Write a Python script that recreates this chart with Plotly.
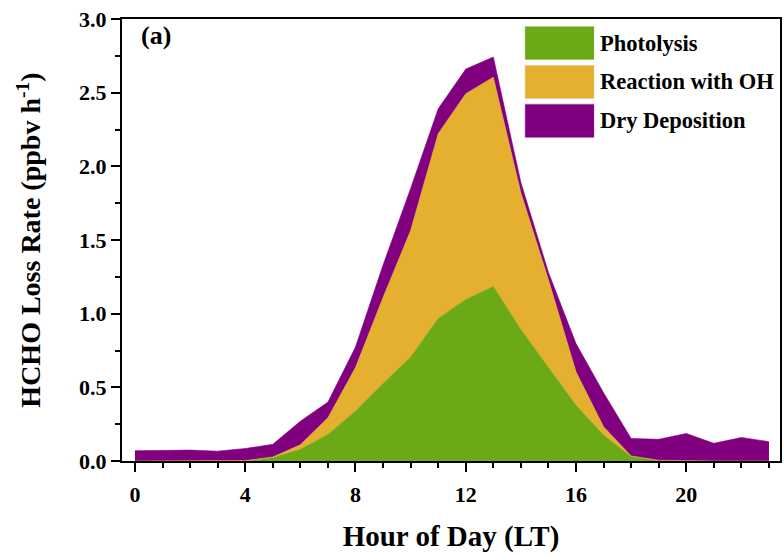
import plotly.graph_objects as go

# Diurnal HCHO loss pathways (ppbv h-1), hourly local time
hours = list(range(24))
photolysis = [0, 0, 0, 0, 0, 0.022, 0.079, 0.18, 0.34, 0.526, 0.706, 0.968,
              1.097, 1.185, 0.893, 0.635, 0.379, 0.176, 0.03, 0.003, 0, 0, 0, 0]
reaction_oh = [0, 0, 0, 0, 0.003, 0.005, 0.031, 0.113, 0.294, 0.584, 0.858, 1.254,
               1.395, 1.42, 0.927, 0.595, 0.226, 0.056, 0.004, 0.002, 0, 0, 0, 0]
dry_deposition = [0.07, 0.072, 0.074, 0.067, 0.082, 0.086, 0.16, 0.107, 0.14, 0.22, 0.286, 0.168,
                  0.168, 0.137, 0.07, 0.05, 0.192, 0.231, 0.119, 0.142, 0.187, 0.12, 0.16, 0.131]

series_names = ["Photolysis", "Reaction with OH", "Dry Deposition"]
series_values = [photolysis, reaction_oh, dry_deposition]
series_colors = ["#6CA916", "#E5AF2F", "#800080"]

x_ticks = [0, 4, 8, 12, 16, 20]
y_ticks = [0.0, 0.5, 1.0, 1.5, 2.0, 2.5, 3.0]

FONT = "Liberation Serif"

fig = go.Figure()
for name, vals, col in zip(series_names, series_values, series_colors):
    fig.add_trace(go.Scatter(
        x=hours, y=vals, name=name, mode="lines",
        stackgroup="loss", line=dict(width=0.6, color=col),
        fillcolor=col, showlegend=False,
    ))

# Legend: large colour swatches with bold labels, top right inside the frame
sw_x0, sw_x1 = 0.612, 0.718
sw_tops = [0.984, 0.896, 0.808]
sw_h = 0.077
for name, col, top in zip(series_names, series_colors, sw_tops):
    fig.add_shape(type="rect", xref="paper", yref="paper",
                  x0=sw_x0, x1=sw_x1, y0=top - sw_h, y1=top,
                  fillcolor=col, line=dict(width=0.8, color="white"), layer="above")
    fig.add_annotation(xref="paper", yref="paper", x=sw_x1 + 0.006, y=top - sw_h / 2,
                       text=name, showarrow=False, xanchor="left", yanchor="middle",
                       font=dict(family=FONT, size=22.5, color="black", weight="bold"))

fig.add_annotation(xref="paper", yref="paper", x=0.026, y=0.962, text="(a)",
                   showarrow=False, xanchor="left", yanchor="middle",
                   font=dict(family=FONT, size=26, color="black", weight="bold"))

axis_common = dict(
    showline=True, linewidth=2, linecolor="black", mirror=True,
    ticks="outside", tickwidth=2, tickcolor="black", ticklen=9,
    showgrid=False, zeroline=False,
    tickfont=dict(family=FONT, size=22, color="black", weight="bold"),
)

fig.update_xaxes(
    range=[-0.47, 23.4], tickvals=x_ticks, ticklabelstandoff=4,
    minor=dict(ticks="outside", dtick=1, tick0=0, ticklen=5, tickwidth=2, tickcolor="black"),
    title=dict(text="Hour of Day (LT)", standoff=19,
               font=dict(family=FONT, size=29, color="black", weight="bold")),
    **axis_common,
)
fig.update_yaxes(
    range=[0, 3.0], tickvals=y_ticks, tickformat=".1f",
    minor=dict(ticks="outside", dtick=0.25, tick0=0, ticklen=5, tickwidth=2, tickcolor="black"),
    title=dict(text="HCHO Loss Rate (ppbv h<sup>-1</sup>)", standoff=30,
               font=dict(family=FONT, size=28, color="black", weight="bold")),
    **axis_common,
)

fig.update_layout(
    width=784, height=556,
    margin=dict(l=122, r=2, t=19, b=95),
    plot_bgcolor="white", paper_bgcolor="white",
    font=dict(family=FONT, color="black"),
)

fig.write_html("out.html")
